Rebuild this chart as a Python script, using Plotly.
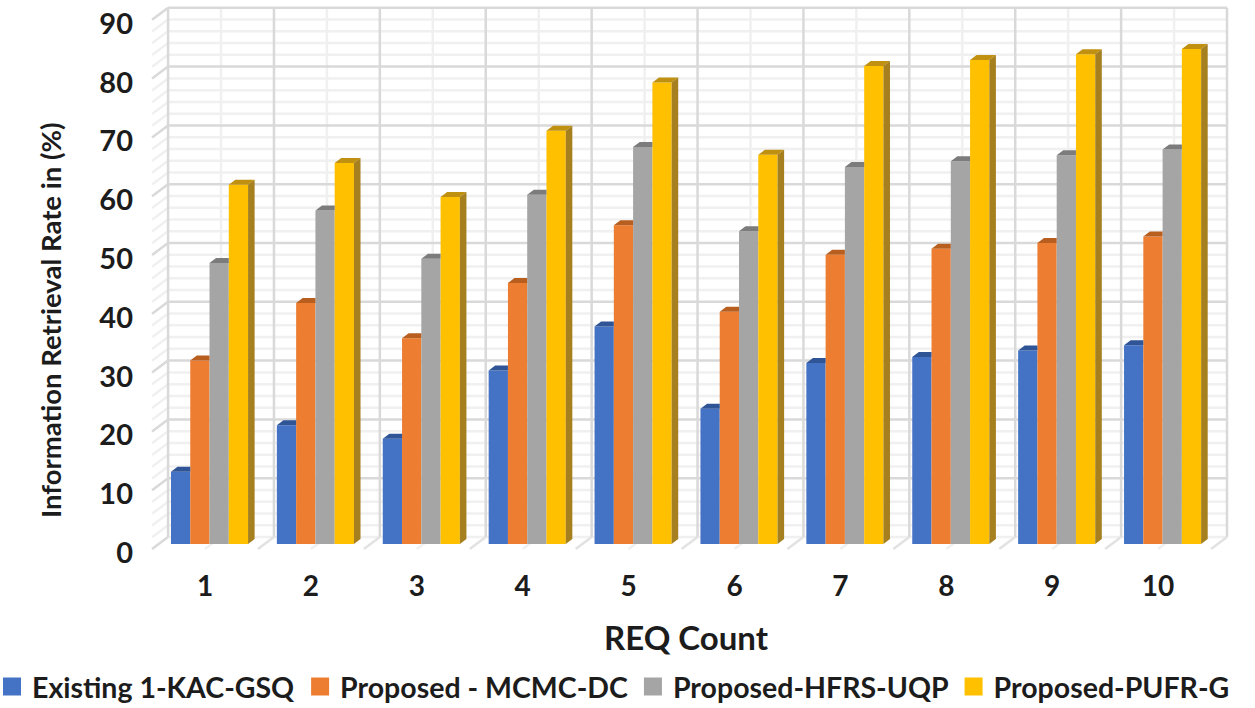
import plotly.graph_objects as go

categories = [1, 2, 3, 4, 5, 6, 7, 8, 9, 10]
existing = [12.3, 20.2, 17.9, 29.5, 37.0, 23.0, 30.8, 31.8, 32.9, 33.8]
mcmc = [31.2, 41.0, 35.0, 44.4, 54.2, 39.5, 49.2, 50.2, 51.2, 52.3]
hfrs = [47.8, 56.7, 48.5, 59.4, 67.5, 53.2, 64.1, 65.1, 66.1, 67.1]
pufr = [61.1, 64.8, 59.0, 70.3, 78.5, 66.2, 81.3, 82.3, 83.3, 84.2]
series_names = ["Existing 1-KAC-GSQ", "Proposed - MCMC-DC", "Proposed-HFRS-UQP", "Proposed-PUFR-G"]
y_ticks = [0, 10, 20, 30, 40, 50, 60, 70, 80, 90]

series = [existing, mcmc, hfrs, pufr]
front_colors = ["#4472C4", "#ED7D31", "#A5A5A5", "#FFC000"]
top_colors = ["#2F5597", "#B85F20", "#7C7C7C", "#C09010"]
side_color = "#A67F1E"
FONT = "Lato"
TEXT = "#1c1c1c"

# pseudo-3D geometry in axis units
BAR_W = 0.182
GROUP_SHIFT = 0.0425
DEPTH_X, DEPTH_Y = 0.062, 0.85      # bar depth
WALL_X, WALL_Y = 0.151, 1.19        # back wall offset from bar plane
FRONT_Y = -0.85                     # front edge of the side wall
LABEL_Y = -1.5

fig = go.Figure()
for j, (name, vals) in enumerate(zip(series_names, series)):
    off = -2 * BAR_W + j * BAR_W + GROUP_SHIFT
    fig.add_trace(go.Bar(
        x=categories, y=vals, name=name, width=BAR_W, offset=off, showlegend=False,
        marker=dict(color=front_colors[j], line_width=0), legendgroup=name))
    for c, v in zip(categories, vals):
        l, r = c + off, c + off + BAR_W
        if j < 3:
            tx = [l, l + DEPTH_X, r, r, l]
        else:
            tx = [l, l + DEPTH_X, r + DEPTH_X, r, l]
        ty = [v, v + DEPTH_Y, v + DEPTH_Y, v, v]
        fig.add_trace(go.Scatter(x=tx, y=ty, mode="lines", fill="toself",
                                 fillcolor=top_colors[j], line=dict(width=0),
                                 showlegend=False, hoverinfo="skip", legendgroup=name))
        if j == 3:
            fig.add_trace(go.Scatter(
                x=[r, r + DEPTH_X, r + DEPTH_X, r, r],
                y=[0, DEPTH_Y, v + DEPTH_Y, v, 0], mode="lines", fill="toself",
                fillcolor=side_color, line=dict(width=0),
                showlegend=False, hoverinfo="skip", legendgroup=name))
    # legend key with the larger square swatch
    fig.add_trace(go.Scatter(
        x=[None], y=[None], mode="markers", name=name, legendgroup=name,
        marker=dict(symbol="square", size=16, color=front_colors[j],
                    line=dict(color=front_colors[j], width=2))))

# walls and floor
shapes = []
def seg(x0, y0, x1, y1, color, w):
    shapes.append(dict(type="line", layer="below", xref="x", yref="y", x0=x0, y0=y0, x1=x1, y1=y1,
                       line=dict(color=color, width=w)))

MAJOR, MINOR = "#d9d9d9", "#f0f0f0"
left, right = 0.5, 10.5
for pass_color, w in ((MINOR, 2.5), (MAJOR, 2.5)):
    for level in range(0, 91, 2):
        is_major = level % 10 == 0
        if is_major != (pass_color == MAJOR):
            continue
        c = MINOR if level == 0 else pass_color
        seg(left + WALL_X, level + WALL_Y, right + WALL_X, level + WALL_Y, c, w)
        seg(left, level + FRONT_Y, left + WALL_X, level + WALL_Y, pass_color, w)
    for k in range(0, 21):
        is_major = k % 2 == 0
        if is_major != (pass_color == MAJOR):
            continue
        xb = left + k / 2
        seg(xb + WALL_X, WALL_Y, xb + WALL_X, 90 + WALL_Y, pass_color, w)
        if k:
            seg(xb, FRONT_Y, xb + WALL_X, WALL_Y, MINOR if not is_major else "#e2e2e2", w)

W, H = 1255, 708
plot_l, plot_r, plot_t, plot_b = 140, 1232, 4, 566
fig.update_layout(
    width=W, height=H, showlegend=True,
    margin=dict(l=0, r=0, t=plot_t, b=H - plot_b, pad=0, autoexpand=False),
    paper_bgcolor="white", plot_bgcolor="white",
    font=dict(family=FONT, color=TEXT),
    shapes=shapes,
    xaxis=dict(domain=[plot_l / W, plot_r / W], range=[0.386, 10.698],
               tickvals=categories, ticktext=[str(c) for c in categories],
               showgrid=False, zeroline=False, showline=False, ticks="", ticklabelstandoff=1,
               tickfont=dict(size=28, family=FONT, weight=700, color=TEXT),
               title=dict(text="REQ Count", standoff=25, font=dict(size=33, family=FONT, weight=700, color=TEXT))),
    yaxis=dict(range=[-3.74, 91.84], tickvals=[t + LABEL_Y for t in y_ticks], ticktext=[str(t) for t in y_ticks],
               showgrid=False, zeroline=False, showline=False, ticks="", ticklabelstandoff=6,
               tickfont=dict(size=29, family=FONT, weight=700, color=TEXT)),
    annotations=[dict(text="Information Retrieval Rate in (%)", xref="paper", yref="paper",
                      x=50 / W, xanchor="center", y=(plot_b - 320) / (plot_b - plot_t), yanchor="middle",
                      textangle=-90, showarrow=False,
                      font=dict(size=27.5, family=FONT, weight=700, color=TEXT))],
    legend=dict(orientation="h", x=-8 / W, xanchor="left", y=(plot_b - 687) / (plot_b - plot_t), yanchor="middle",
                font=dict(size=28.5, family=FONT, weight=700, color=TEXT),
                bgcolor="rgba(0,0,0,0)", itemwidth=30, traceorder="normal"),
)
fig.write_html("out.html", config={"displayModeBar": False},
               post_script="document.body.style.margin='0';")
